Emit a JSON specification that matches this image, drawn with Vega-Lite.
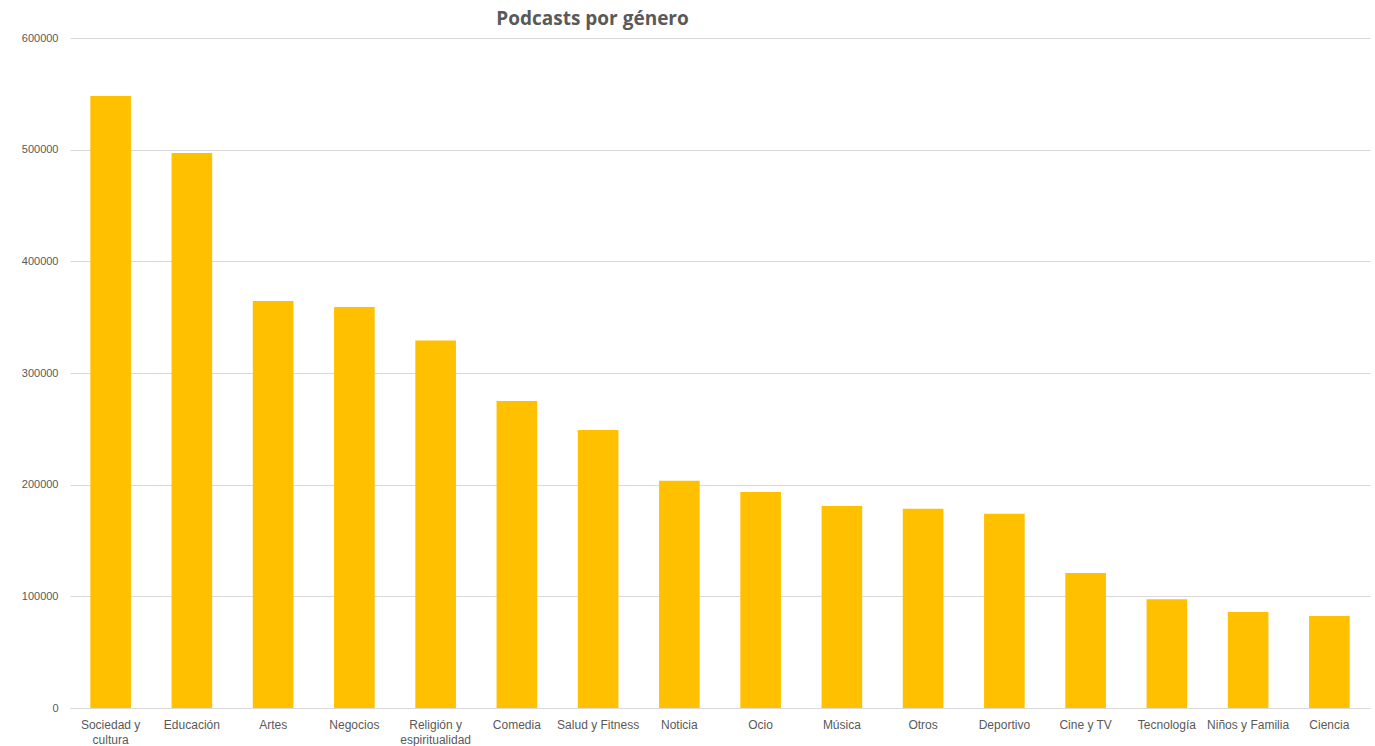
{
  "$schema": "https://vega.github.io/schema/vega-lite/v6.json",
  "width": 1300,
  "height": 670,
  "autosize": {"type": "none"},
  "padding": {"left": 70, "top": 38, "right": 5, "bottom": 38},
  "background": "white",
  "title": {
    "text": "Podcasts por género",
    "anchor": "start",
    "dx": 475,
    "offset": 3,
    "font": "Open Sans",
    "fontSize": 19,
    "fontWeight": "bold",
    "color": "#595959"
  },
  "data": {
    "values": [
      {"genero": "Sociedad y cultura", "podcasts": 548000},
      {"genero": "Educación", "podcasts": 497000},
      {"genero": "Artes", "podcasts": 364500},
      {"genero": "Negocios", "podcasts": 359000},
      {"genero": "Religión y espiritualidad", "podcasts": 329000},
      {"genero": "Comedia", "podcasts": 275000},
      {"genero": "Salud y Fitness", "podcasts": 249000},
      {"genero": "Noticia", "podcasts": 203500},
      {"genero": "Ocio", "podcasts": 193500},
      {"genero": "Música", "podcasts": 181000},
      {"genero": "Otros", "podcasts": 178500},
      {"genero": "Deportivo", "podcasts": 174000},
      {"genero": "Cine y TV", "podcasts": 121000},
      {"genero": "Tecnología", "podcasts": 97500},
      {"genero": "Niños y Familia", "podcasts": 86000},
      {"genero": "Ciencia", "podcasts": 82500}
    ]
  },
  "mark": {"type": "bar", "color": "#FFC000"},
  "encoding": {
    "x": {
      "field": "genero",
      "type": "nominal",
      "sort": null,
      "scale": {"paddingInner": 0.5, "paddingOuter": 0.25},
      "axis": {
        "title": null,
        "labelAngle": 0,
        "labelFont": "Liberation Sans",
        "labelFontSize": 12,
        "labelColor": "#595959",
        "labelPadding": 11,
        "labelLineHeight": 15,
        "labelExpr": "datum.label == 'Sociedad y cultura' ? ['Sociedad y', 'cultura'] : datum.label == 'Religión y espiritualidad' ? ['Religión y', 'espiritualidad'] : datum.label",
        "ticks": false,
        "domainColor": "#d9d9d9",
        "domainWidth": 1,
        "grid": false
      }
    },
    "y": {
      "field": "podcasts",
      "type": "quantitative",
      "scale": {"domain": [0, 600000]},
      "axis": {
        "title": null,
        "values": [0, 100000, 200000, 300000, 400000, 500000, 600000],
        "format": "d",
        "labelFont": "Liberation Sans",
        "labelFontSize": 11,
        "labelColor": "#595959",
        "labelPadding": 12,
        "ticks": false,
        "domain": false,
        "gridColor": "#d9d9d9",
        "gridWidth": 1
      }
    }
  },
  "config": {"view": {"stroke": null}}
}
